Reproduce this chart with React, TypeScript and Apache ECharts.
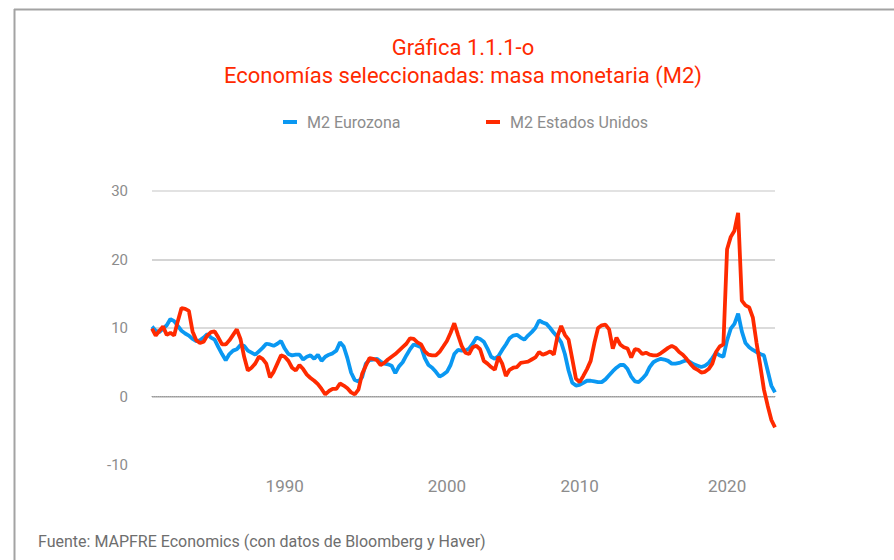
import React, { useEffect, useRef } from "react";
import * as echarts from "echarts";

// Quarterly categories, 1981 T1 .. 2023 T2
const quarters: string[] = [];
for (let y = 1981; y <= 2023; y++) {
  for (let q = 1; q <= 4; q++) {
    if (quarters.length < 170) quarters.push(`${y}-T${q}`);
  }
}

const seriesNames = ["M2 Eurozona", "M2 Estados Unidos"];

// Tick labels as they appear on the reference axis
const xLabelCats = ["1990-T1", "2001-T1", "2010-T1", "2020-T1"];
const xLabelTexts = ["1990", "2000", "2010", "2020"];

const m2Eurozona = [
  10.2, 9.6, 9.4, 9.9, 10.4, 11.3, 11.0, 10.3, 9.6, 9.2,
  8.9, 8.4, 8.1, 8.2, 8.6, 9.1, 8.6, 8.3, 7.2, 6.2,
  5.3, 6.2, 6.7, 6.9, 7.5, 7.4, 6.7, 6.4, 6.1, 6.6,
  7.1, 7.7, 7.6, 7.4, 7.7, 8.1, 7.0, 6.2, 6.0, 6.1,
  6.1, 5.4, 5.8, 6.0, 5.5, 6.1, 5.2, 5.8, 6.1, 6.3,
  6.7, 7.9, 7.3, 5.6, 3.5, 2.4, 2.2, 2.8, 4.8, 5.3,
  5.4, 5.5, 5.1, 4.8, 4.7, 4.5, 3.4, 4.4, 5.0, 6.0,
  6.9, 7.6, 7.4, 7.2, 5.6, 4.6, 4.2, 3.6, 2.9, 3.2,
  3.6, 4.6, 6.2, 6.8, 6.7, 6.7, 7.0, 7.7, 8.6, 8.4,
  8.0, 7.0, 5.8, 5.5, 5.9, 6.8, 7.6, 8.5, 8.9, 9.0,
  8.6, 8.3, 8.9, 9.4, 10.0, 11.1, 10.8, 10.6, 10.0, 9.3,
  8.7, 7.9, 6.2, 3.8, 2.0, 1.6, 1.7, 2.0, 2.3, 2.3,
  2.2, 2.1, 2.1, 2.5, 3.1, 3.7, 4.2, 4.6, 4.6, 4.0,
  2.9, 2.2, 2.1, 2.6, 3.2, 4.3, 5.0, 5.3, 5.5, 5.4,
  5.2, 4.8, 4.8, 4.9, 5.1, 5.3, 5.0, 4.7, 4.5, 4.3,
  4.5, 4.9, 5.6, 6.4, 6.0, 5.8, 8.2, 9.9, 10.6, 12.1,
  9.5, 7.8, 7.2, 6.8, 6.5, 6.2, 6.0, 3.8, 1.6, 0.6,
];

const m2EstadosUnidos = [
  9.9, 8.9, 9.6, 10.2, 9.0, 9.3, 8.9, 11.0, 12.9, 12.8,
  12.5, 9.5, 8.2, 7.8, 8.0, 8.9, 9.4, 9.5, 8.6, 7.6,
  7.6, 8.2, 9.0, 9.8, 8.4, 5.8, 3.8, 4.2, 4.8, 5.8,
  5.5, 4.8, 2.8, 3.6, 4.8, 6.0, 5.8, 5.2, 4.2, 3.8,
  4.6, 4.0, 3.2, 2.7, 2.3, 1.8, 1.1, 0.3, 0.8, 1.1,
  1.1, 1.9, 1.6, 1.2, 0.6, 0.3, 1.0, 3.3, 4.5, 5.6,
  5.5, 5.3, 4.6, 4.9, 5.4, 5.8, 6.2, 6.7, 7.2, 7.7,
  8.5, 8.4, 7.9, 7.6, 6.6, 6.1, 6.0, 6.0, 6.5, 7.3,
  8.1, 9.3, 10.7, 9.0, 7.4, 6.4, 6.2, 7.2, 7.4, 6.9,
  5.2, 4.8, 4.3, 3.9, 5.8, 4.8, 3.0, 3.9, 4.2, 4.3,
  4.9, 5.0, 5.1, 5.4, 5.7, 6.5, 6.1, 6.3, 6.6, 6.1,
  8.8, 10.3, 9.0, 8.3, 5.5, 2.6, 2.1, 3.0, 4.0, 5.2,
  7.8, 10.0, 10.4, 10.5, 9.8, 7.0, 8.6, 7.6, 7.2, 7.0,
  5.7, 6.9, 6.8, 6.2, 6.4, 6.1, 6.0, 6.0, 6.3, 6.7,
  7.1, 7.4, 7.1, 6.5, 6.1, 5.5, 4.8, 4.2, 3.9, 3.5,
  3.6, 4.0, 4.8, 6.5, 7.3, 7.6, 21.5, 23.3, 24.2, 26.8,
  14.0, 13.3, 13.0, 11.5, 7.8, 4.5, 1.0, -1.3, -3.4, -4.5,
];

const titleLines = ["Gráfica 1.1.1-o", "Economías seleccionadas: masa monetaria (M2)"];
const sourceText = "Fuente: MAPFRE Economics (con datos de Bloomberg y Haver)";

const FONT = "Roboto, 'Noto Sans', 'DejaVu Sans', sans-serif";
const BLUE = "#0a98f2";
const RED = "#ff2a00";
const GRAY = "#8c8c8c";

export default function App() {
  const ref = useRef<HTMLDivElement>(null);

  useEffect(() => {
    if (!ref.current) return;
    const chart = echarts.init(ref.current, undefined, { renderer: "svg" });
    const legendCommon = {
      top: 109,
      icon: "rect",
      itemWidth: 14,
      itemHeight: 4,
      textStyle: { color: GRAY, fontSize: 16, fontFamily: FONT, padding: [0, 0, 0, 5] },
    };
    chart.setOption({
      animation: false,
      backgroundColor: "#ffffff",
      textStyle: { fontFamily: FONT },
      grid: { left: 152, right: 119, top: 191, bottom: 95, containLabel: false },
      legend: [
        { ...legendCommon, data: [seriesNames[0]], left: 278 },
        { ...legendCommon, data: [seriesNames[1]], left: 481 },
      ],
      xAxis: {
        type: "category",
        data: quarters,
        boundaryGap: false,
        axisLine: { show: true, lineStyle: { color: "#9a9a9a", width: 1, type: "dotted" } },
        axisTick: { show: false },
        axisLabel: {
          interval: 3,
          formatter: (value: string) => {
            const k = xLabelCats.indexOf(value);
            return k >= 0 ? xLabelTexts[k] : "";
          },
          hideOverlap: false,
          color: GRAY,
          fontSize: 17,
          fontFamily: FONT,
          margin: 12,
        },
        splitLine: { show: false },
      },
      yAxis: {
        type: "value",
        min: -10,
        max: 30,
        interval: 10,
        axisLine: { show: false },
        axisTick: { show: false },
        axisLabel: { color: GRAY, fontSize: 15, fontFamily: FONT, margin: 24 },
        splitLine: {
          show: true,
          lineStyle: {
            color: ["rgba(0,0,0,0)", "#c2c2c2", "#cfcfcf", "#c6c6c6", "#d9d9d9"],
            width: 1.5,
          },
        },
      },
      series: [
        {
          name: seriesNames[0],
          type: "line",
          data: m2Eurozona,
          showSymbol: false,
          symbol: "none",
          lineStyle: { color: BLUE, width: 3.8 },
          itemStyle: { color: BLUE },
        },
        {
          name: seriesNames[1],
          type: "line",
          data: m2EstadosUnidos,
          showSymbol: false,
          symbol: "none",
          lineStyle: { color: RED, width: 3.8 },
          itemStyle: { color: RED },
        },
      ],
      graphic: [
        {
          type: "line",
          shape: { x1: 14, y1: 9.5, x2: 894, y2: 9.5 },
          style: { stroke: "#a3a3a3", lineWidth: 2 },
        },
        {
          type: "line",
          shape: { x1: 14.5, y1: 9, x2: 14.5, y2: 560 },
          style: { stroke: "#a3a3a3", lineWidth: 2 },
        },
        {
          type: "text",
          x: 463,
          y: 47,
          style: {
            text: titleLines[0],
            fill: RED,
            font: `normal 22px ${FONT}`,
            textAlign: "center",
            textVerticalAlign: "middle",
          },
        },
        {
          type: "text",
          x: 463,
          y: 75,
          style: {
            text: titleLines[1],
            fill: RED,
            font: `normal 22px ${FONT}`,
            textAlign: "center",
            textVerticalAlign: "middle",
          },
        },
        {
          type: "text",
          x: 38,
          y: 541,
          style: {
            text: sourceText,
            fill: "#6e6e6e",
            font: `16px ${FONT}`,
            textAlign: "left",
            textVerticalAlign: "middle",
          },
        },
      ],
    });
    return () => chart.dispose();
  }, []);

  return (
    <div
      ref={ref}
      style={{ position: "fixed", left: 0, top: 0, width: 894, height: 560, background: "#fff" }}
    />
  );
}
